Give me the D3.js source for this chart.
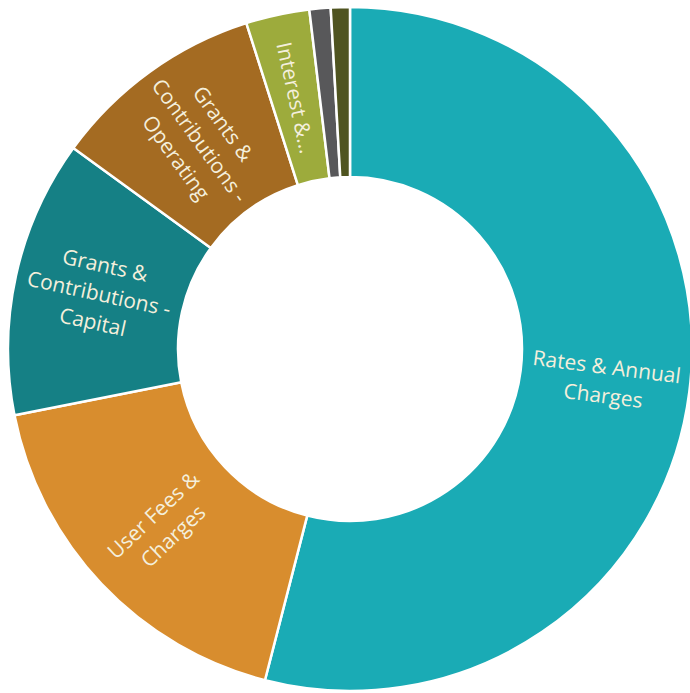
<!DOCTYPE html>
<html>
<head>
<meta charset="utf-8">
<script src="https://cdn.jsdelivr.net/npm/d3@7"></script>
<style>
  body { margin: 0; background: #fff; }
  svg { display: block; }
</style>
</head>
<body>
<svg id="chart" width="690" height="693"></svg>
<script>
// Revenue categories (clockwise from 12 o'clock)
const categories = [
  "Rates & Annual Charges",
  "User Fees & Charges",
  "Grants & Contributions - Capital",
  "Grants & Contributions - Operating",
  "Interest & Investment Revenue",
  "Other Revenue",
  "Net Gain from Disposal of Assets"
];
// Share of total (%)
const values = [54.0, 17.9, 13.1, 10.1, 3.0, 1.0, 0.9];
// Wrapped label lines as shown (empty = no label)
const labelLines = [
  ["Rates & Annual", "Charges"],
  ["User Fees &", "Charges"],
  ["Grants &", "Contributions -", "Capital"],
  ["Grants &", "Contributions -", "Operating"],
  ["Interest &..."],
  [],
  []
];
const colors = ["#1aabb5", "#d88d2e", "#158085", "#a46b22", "#9dab3c", "#58585a", "#4f5420"];

const data = categories.map((c, i) => ({ name: c, value: values[i], lines: labelLines[i] }));

const svg = d3.select("#chart"),
      cx = 350, cy = 349,
      outerR = 342, innerR = 172;

const g = svg.append("g").attr("transform", `translate(${cx},${cy})`);

const pie = d3.pie().value(d => d.value).sort(null);
const arc = d3.arc().innerRadius(innerR).outerRadius(outerR);
const color = d3.scaleOrdinal().domain(categories).range(colors);

const arcs = pie(data);

g.selectAll("path")
  .data(arcs)
  .join("path")
  .attr("d", arc)
  .attr("fill", d => color(d.data.name))
  .attr("stroke", "#fff")
  .attr("stroke-width", 2.5)
  .attr("stroke-linejoin", "round");

// Labels, rotated so they read along the slice
const lineH = 29;
const labels = g.selectAll("g.label")
  .data(arcs.filter(d => d.data.lines.length))
  .join("g")
  .attr("class", "label")
  .attr("transform", d => {
    const [x, y] = arc.centroid(d);
    const deg = (d.startAngle + d.endAngle) / 2 * 180 / Math.PI;
    const rot = deg < 180 ? deg - 90 : deg - 270;
    return `translate(${x},${y}) rotate(${rot})`;
  });

labels.selectAll("text")
  .data(d => d.data.lines.map((t, i, a) => ({ t, i, n: a.length })))
  .join("text")
  .attr("text-anchor", "middle")
  .attr("dy", "0.35em")
  .attr("y", d => (d.i - (d.n - 1) / 2) * lineH)
  .attr("fill", "#f4efdc")
  .style("font-family", "'Open Sans', sans-serif")
  .style("font-size", "21px")
  .text(d => d.t);
</script>
</body>
</html>
